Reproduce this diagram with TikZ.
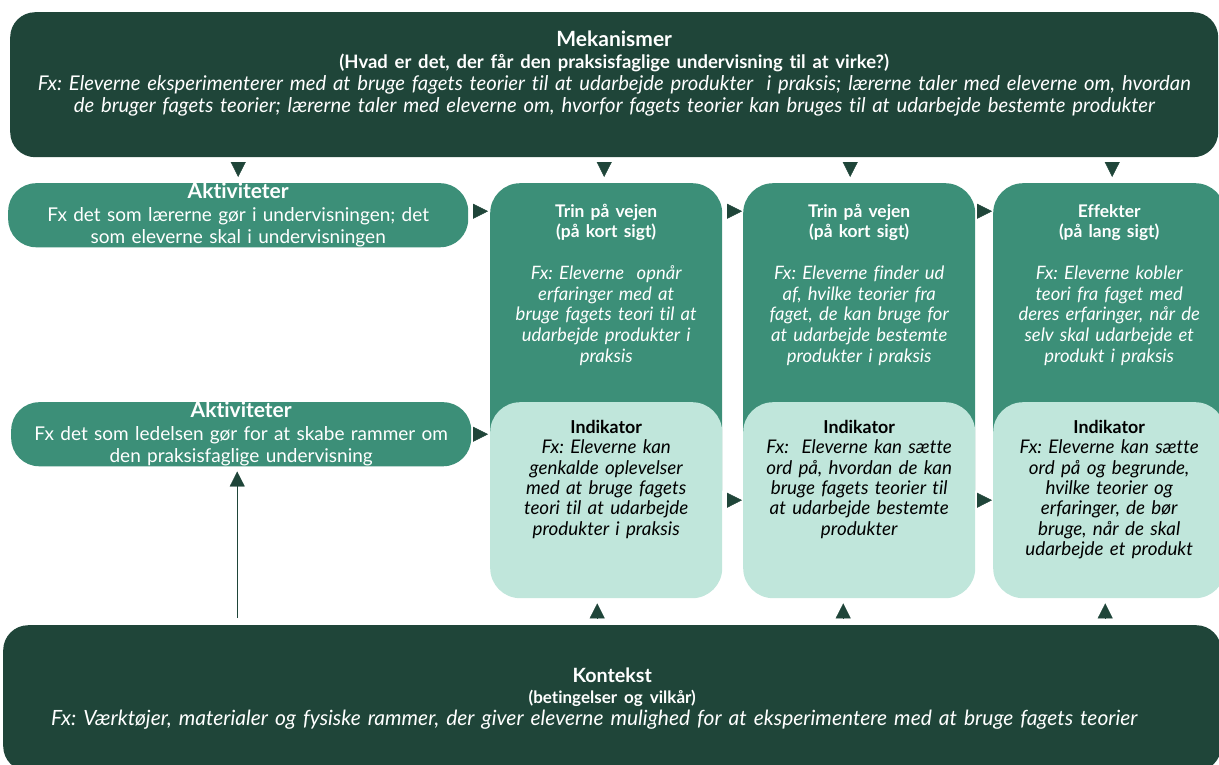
\documentclass[tikz,border=0pt]{standalone}
\usepackage{fontspec}
\setmainfont{Lato}[Ligatures=CommonOff]
\usetikzlibrary{arrows.meta,positioning}

\definecolor{mekgreen}{HTML}{1F4539}
\definecolor{midgreen}{HTML}{3C8F78}
\definecolor{lightgreen}{HTML}{C0E6DB}

\tikzstyle{mekblock} = [fill=mekgreen, text=white, rounded corners=25pt, anchor=north west, align=center, inner sep=0pt]
\tikzstyle{aktblock} = [fill=midgreen, text=white, rounded corners=28pt, anchor=north west, align=center, inner sep=0pt, minimum width=460pt, text width=446pt, font=\fontsize{19}{22.5}\selectfont]
\tikzstyle{colblock} = [fill=midgreen, text=white, rounded corners=30pt, anchor=north west, align=center, inner sep=0pt, minimum width=232pt, text width=226pt, text height=34pt, text depth=300pt, font=\fontsize{18.5}{20.7}\selectfont]
\tikzstyle{indblock} = [fill=lightgreen, text=black, rounded corners=30pt, anchor=north west, align=center, inner sep=0pt, minimum width=232pt, text width=226pt, text height=31pt, text depth=165pt, font=\fontsize{18.8}{20.4}\selectfont]
\tikzstyle{tri} = [draw=mekgreen, line width=0.4pt, -{Triangle[length=15pt,width=15pt]}]
\newcommand{\aktblock}[2]{node (a#1) [aktblock] {#2}}
\newcommand{\colblock}[2]{node (t#1) [colblock] {#2}}
\newcommand{\indblock}[2]{node (i#1) [indblock] {#2}}
\newcommand{\akttitle}[1]{{\fontsize{21}{22.5}\selectfont\bfseries #1}}
\newcommand{\coltitle}[1]{{\fontsize{17.4}{20.7}\selectfont\bfseries #1}}
\newcommand{\indtitle}[1]{{\fontsize{17.8}{20.4}\selectfont\bfseries #1}}

\begin{document}
\frenchspacing
\begin{tikzpicture}[x=1pt,y=-1pt]
\useasboundingbox (0,0) rectangle (1219,764);

\path (10,12) node (mek) [mekblock, minimum width=1208pt, text width=1200pt, text height=34pt, text depth=111pt, font=\fontsize{20.3}{22}\selectfont] {{\fontsize{21}{22}\selectfont\bfseries Mekanismer}\\{\fontsize{18.5}{22}\selectfont\bfseries (Hvad er det, der får den praksisfaglige undervisning til at virke?)}\\{\itshape Fx: Eleverne eksperimenterer med at bruge fagets teorier til at udarbejde produkter\ \ i praksis; lærerne taler med eleverne om, hvordan}\\{\itshape de bruger fagets teorier; lærerne taler med eleverne om, hvorfor fagets teorier kan bruges til at udarbejde bestemte produkter}};

\path (8,183) \aktblock{1}{\akttitle{Aktiviteter}\\Fx det som lærerne gør i undervisningen; det\\som eleverne skal i undervisningen};
\path (11,402) \aktblock{2}{\akttitle{Aktiviteter}\\Fx det som ledelsen gør for at skabe rammer om\\den praksisfaglige undervisning};

\path (490,183) \colblock{1}{\coltitle{Trin på vejen}\\\coltitle{(på kort sigt)}\\[20.7pt]{\itshape Fx: Eleverne\ \ opnår}\\{\itshape erfaringer med at}\\{\itshape bruge fagets teori til at}\\{\itshape udarbejde produkter i}\\{\itshape praksis}};
\path (743,183) \colblock{2}{\coltitle{Trin på vejen}\\\coltitle{(på kort sigt)}\\[20.7pt]{\itshape Fx: Eleverne finder ud}\\{\itshape af, hvilke teorier fra}\\{\itshape faget, de kan bruge for}\\{\itshape at udarbejde bestemte}\\{\itshape produkter i praksis}};
\path (993,183) \colblock{3}{\coltitle{Effekter}\\\coltitle{(på lang sigt)}\\[20.7pt]{\itshape Fx: Eleverne kobler}\\{\itshape teori fra faget med}\\{\itshape deres erfaringer, når de}\\{\itshape selv skal udarbejde et}\\{\itshape produkt i praksis}};

\path (490,402) \indblock{1}{\indtitle{Indikator}\\{\itshape Fx: Eleverne kan}\\{\itshape genkalde oplevelser}\\{\itshape med at bruge fagets}\\{\itshape teori til at udarbejde}\\{\itshape produkter i praksis}};
\path (743,402) \indblock{2}{\indtitle{Indikator}\\{\itshape Fx:\ \ Eleverne kan sætte}\\{\itshape ord på, hvordan de kan}\\{\itshape bruge fagets teorier til}\\{\itshape at udarbejde bestemte}\\{\itshape produkter}};
\path (993,402) \indblock{3}{\indtitle{Indikator}\\{\itshape Fx: Eleverne kan sætte}\\{\itshape ord på og begrunde,}\\{\itshape hvilke teorier og}\\{\itshape erfaringer, de bør}\\{\itshape bruge, når de skal}\\{\itshape udarbejde et produkt}};

\path (3,625) node (kon) [mekblock, minimum width=1218pt, minimum height=146pt, text width=1200pt, font=\fontsize{21}{21.5}\selectfont] {{\fontsize{19.7}{21.5}\selectfont\bfseries Kontekst}\\{\fontsize{17}{21.5}\selectfont\bfseries (betingelser og vilkår)\hspace*{10pt}}\\{\itshape Fx: Værktøjer, materialer og fysiske rammer, der giver eleverne mulighed for at eksperimentere med at bruge fagets teorier\hspace*{36pt}}};

% ned fra mekanismer
\draw[tri, shorten <=5pt, shorten >=6pt] (mek.south -| a1.north) -- (a1.north);
\draw[tri, shorten <=5pt, shorten >=6pt] ([xshift=-2pt]mek.south -| t1.north) -- ([xshift=-2pt]t1.north);
\draw[tri, shorten <=5pt, shorten >=6pt] ([xshift=-9pt]mek.south -| t2.north) -- ([xshift=-9pt]t2.north);
\draw[tri, shorten <=5pt, shorten >=6pt] ([xshift=3pt]mek.south -| t3.north) -- ([xshift=3pt]t3.north);

% mod hoejre
\draw[tri, shorten <=5pt, shorten >=2pt] ([yshift=4pt]a1.east) -- ([yshift=4pt]a1.east -| t1.west);
\draw[tri, shorten <=5pt, shorten >=1pt] ([yshift=4pt]a1.east -| t1.east) -- ([yshift=4pt]a1.east -| t2.west);
\draw[tri, shorten <=2pt, shorten >=1pt] ([yshift=4pt]a1.east -| t2.east) -- ([yshift=4pt]a1.east -| t3.west);
\draw[tri, shorten <=2pt, shorten >=2pt] (a2.east) -- (a2.east -| i1.west);
\draw[tri, shorten <=5pt, shorten >=1pt] (i1.east) -- (i2.west);
\draw[tri, shorten <=2pt, shorten >=1pt] (i2.east) -- (i3.west);

% op fra kontekst
\draw[tri, shorten <=7pt, shorten >=5pt] ([xshift=-4pt]kon.north -| a2.south) -- ([xshift=-4pt]a2.south);
\draw[tri, shorten <=7pt, shorten >=5pt] ([xshift=-9pt]kon.north -| i1.south) -- ([xshift=-9pt]i1.south);
\draw[tri, shorten <=7pt, shorten >=5pt] ([xshift=-16pt]kon.north -| i2.south) -- ([xshift=-16pt]i2.south);
\draw[tri, shorten <=7pt, shorten >=5pt] ([xshift=-4pt]kon.north -| i3.south) -- ([xshift=-4pt]i3.south);
\end{tikzpicture}
\end{document}
